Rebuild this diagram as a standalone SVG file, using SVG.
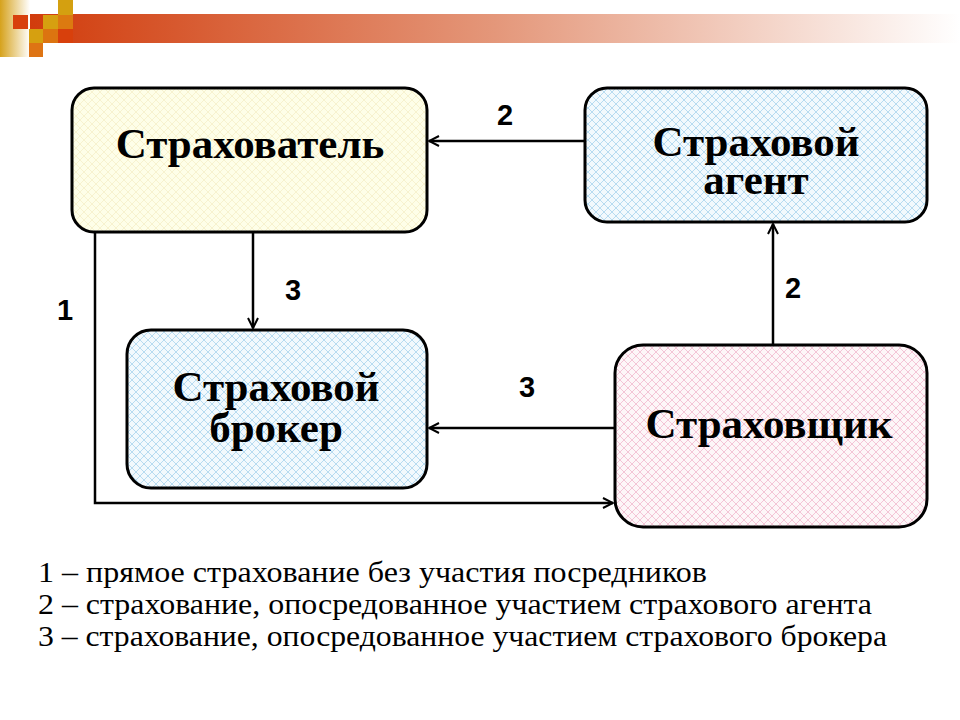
<svg xmlns="http://www.w3.org/2000/svg" width="960" height="720" viewBox="0 0 960 720">
<defs>
<linearGradient id="barGrad" x1="0" y1="0" x2="1" y2="0">
<stop offset="0" stop-color="#d13c0c"/>
<stop offset="0.5" stop-color="#e4977a"/>
<stop offset="1" stop-color="#ffffff"/>
</linearGradient>
<linearGradient id="stripGrad" x1="0" y1="0" x2="1" y2="0">
<stop offset="0" stop-color="#d6a21c"/>
<stop offset="1" stop-color="#ffffff"/>
</linearGradient>
<pattern id="hatchBlue" width="8" height="8" patternUnits="userSpaceOnUse">
<rect width="8" height="8" fill="#f2f9fd"/>
<path d="M0,0 L8,8 M8,0 L0,8" stroke="#b0d8ee" stroke-width="0.9"/>
</pattern>
<pattern id="hatchPink" width="8" height="8" patternUnits="userSpaceOnUse">
<rect width="8" height="8" fill="#fdf6f8"/>
<path d="M0,0 L8,8 M8,0 L0,8" stroke="#f2c0d2" stroke-width="0.9"/>
</pattern>
<pattern id="hatchYellow" width="8" height="8" patternUnits="userSpaceOnUse">
<rect width="8" height="8" fill="#fefee8"/>
<path d="M0,0 L8,8 M8,0 L0,8" stroke="#f6f0cc" stroke-width="0.9"/>
</pattern>
<marker id="arr" viewBox="0 0 12 12" refX="11" refY="6" markerWidth="12" markerHeight="12" markerUnits="userSpaceOnUse" orient="auto">
<path d="M1,1 L11,6 L1,11" fill="none" stroke="#000" stroke-width="2"/>
</marker>
<style>
.box { stroke:#000; stroke-width:3; }
.title { font-family:"Liberation Serif","Times New Roman",serif; font-weight:bold; font-size:43px; fill:#000; text-anchor:middle; }
.num { font-family:"Liberation Sans",Arial,sans-serif; font-weight:bold; font-size:29px; fill:#000; text-anchor:middle; }
.leg { font-family:"Liberation Serif","Times New Roman",serif; font-size:29px; fill:#000; }
.conn { fill:none; stroke:#000; stroke-width:2.5; }
</style>
</defs>
<rect width="960" height="720" fill="#ffffff"/>
<g id="decor">
<rect x="0" y="0" width="30" height="57" fill="url(#stripGrad)"/>
<rect x="30" y="14" width="930" height="29" fill="url(#barGrad)"/>
<rect x="58" y="0" width="15" height="15" fill="#d4a010"/>
<rect x="13" y="15" width="15" height="14" fill="#d8400c"/>
<rect x="43" y="15" width="15" height="14" fill="#d6a010"/>
<rect x="58" y="15" width="15" height="14" fill="#dc7a10"/>
<rect x="29" y="29" width="14" height="14" fill="#d6a010"/>
<rect x="43" y="29" width="15" height="14" fill="#dc7410"/>
<rect x="58" y="29" width="15" height="14" fill="#d8400c"/>
<rect x="29" y="43" width="14" height="14" fill="#de7414"/>
</g>
<g id="connectors">
<line class="conn" x1="585" y1="141" x2="429" y2="141" marker-end="url(#arr)"/>
<line class="conn" x1="773" y1="345" x2="773" y2="224" marker-end="url(#arr)"/>
<line class="conn" x1="253" y1="232" x2="253" y2="328" marker-end="url(#arr)"/>
<line class="conn" x1="615" y1="428" x2="429" y2="428" marker-end="url(#arr)"/>
<polyline class="conn" points="95,232 95,503 613,503" marker-end="url(#arr)"/>
<text class="num" x="505" y="125">2</text>
<text class="num" x="793" y="298">2</text>
<text class="num" x="293" y="300">3</text>
<text class="num" x="527" y="397">3</text>
<text class="num" x="65" y="320">1</text>
</g>
<g id="strahovatel">
<rect class="box" x="72" y="88" width="355" height="144" rx="22" fill="url(#hatchYellow)"/>
<text class="title" x="250" y="158">Страхователь</text>
</g>
<g id="agent">
<rect class="box" x="585" y="88" width="342" height="134" rx="22" fill="url(#hatchBlue)"/>
<text class="title" x="756" y="156">Страховой</text>
<text class="title" x="756" y="194">агент</text>
</g>
<g id="broker">
<rect class="box" x="127" y="330" width="300" height="158" rx="24" fill="url(#hatchBlue)"/>
<text class="title" x="276" y="401">Страховой</text>
<text class="title" x="276" y="442">брокер</text>
</g>
<g id="strahovshik">
<rect class="box" x="615" y="345" width="312" height="182" rx="28" fill="url(#hatchPink)"/>
<text class="title" x="769" y="438">Страховщик</text>
</g>
<g id="legend">
<text class="leg" x="38" y="582" textLength="669" lengthAdjust="spacingAndGlyphs">1 – прямое страхование без участия посредников</text>
<text class="leg" x="38" y="614" textLength="834" lengthAdjust="spacingAndGlyphs">2 – страхование, опосредованное участием страхового агента</text>
<text class="leg" x="38" y="646" textLength="849" lengthAdjust="spacingAndGlyphs">3 – страхование, опосредованное участием страхового брокера</text>
</g>
</svg>
